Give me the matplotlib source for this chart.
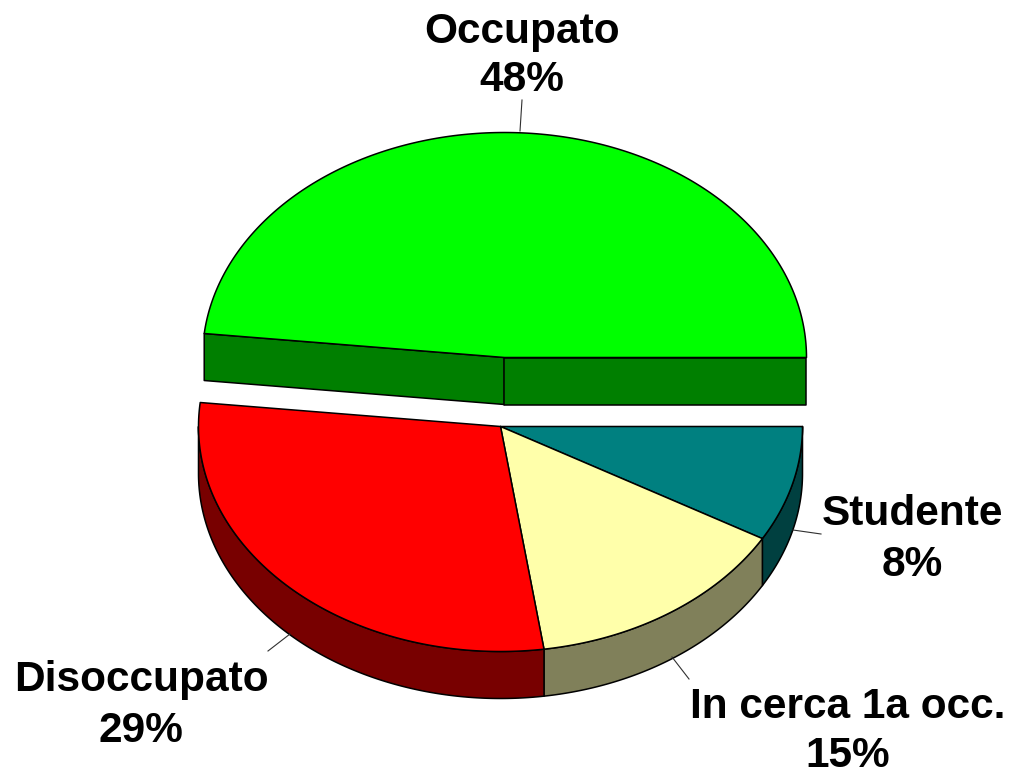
from matplotlib import pyplot as plt
import numpy as np

labels = ["Occupato", "Studente", "In cerca 1a occ.", "Disoccupato"]
shown_pct = [48, 8, 15, 29]
# shares, the printed labels are rounded
shares = [48.3, 8.3, 14.4, 29.0]
top_colors = ["#00ff00", "#008080", "#ffffaa", "#ff0000"]
side_colors = ["#007f00", "#004040", "#80805a", "#780000"]

# pie layout in pixels
RX, RY = 302, 225
DEPTH = 47
CENTER_UP = (504.5, 357.5)
CENTER_LOW = (500.5, 426.5)
LW = 1.1


def arc(center, a0, a1, drop=0):
    t = np.radians(np.linspace(a0, a1, 200))
    return center[0] + RX * np.cos(t), center[1] - RY * np.sin(t) + drop


def draw_side(ax, center, a0, a1, color):
    # outer wall between two angles, only the part facing the viewer
    x0, y0 = arc(center, a0, a1)
    x1, y1 = arc(center, a1, a0, DEPTH)
    ax.fill(np.r_[x0, x1], np.r_[y0, y1], facecolor=color, edgecolor="black", lw=LW, joinstyle="round")


def draw_top(ax, center, a0, a1, color):
    x, y = arc(center, a0, a1)
    ax.fill(np.r_[center[0], x], np.r_[center[1], y], facecolor=color, edgecolor="black", lw=LW, joinstyle="round")


def draw_wall(ax, center, end, color):
    xs = [center[0], end[0], end[0], center[0]]
    ys = [center[1], end[1], end[1] + DEPTH, center[1] + DEPTH]
    ax.fill(xs, ys, facecolor=color, edgecolor="black", lw=LW, joinstyle="round")


fig = plt.figure(figsize=(10.12, 7.73), dpi=100)
ax = fig.add_axes([0, 0, 1, 1])
ax.set_xlim(0, 1012)
ax.set_ylim(773, 0)
ax.axis("off")

# exploded slice: runs counter clockwise from the east point
occ_end = 360 * shares[0] / 100
end_x, end_y = arc(CENTER_UP, occ_end, occ_end + 1)
draw_wall(ax, CENTER_UP, (end_x[0], end_y[0]), side_colors[0])
draw_wall(ax, CENTER_UP, (CENTER_UP[0] + RX, CENTER_UP[1]), side_colors[0])
draw_top(ax, CENTER_UP, 0, occ_end, top_colors[0])

# other slices run clockwise from the east point
edges = -np.cumsum([0] + [360 * s / 100 for s in shares[1:]])
for i in range(3):
    a0, a1 = edges[i], edges[i + 1]
    draw_side(ax, CENTER_LOW, a0, max(a1, -180), side_colors[i + 1])
for i in range(3):
    draw_top(ax, CENTER_LOW, edges[i], edges[i + 1], top_colors[i + 1])

text_pos = [(522, 32, 80), (912, 514, 565), (848, 707, 756), (141, 680, 731)]
leaders = [((522, 100), (520, 131)), ((821, 534), (793, 530)), ((689, 679), (672, 657)), ((268, 651), (290, 634))]

for lab, pct, (x, y0, y1), (p, q) in zip(labels, shown_pct, text_pos, leaders):
    ax.plot([p[0], q[0]], [p[1], q[1]], color="#303030", lw=0.8, zorder=1)
    ax.text(x, y0, lab, ha="center", va="center", fontsize=30.5, fontweight="bold", family="Liberation Sans")
    ax.text(x, y1, f"{pct}%", ha="center", va="center", fontsize=30.5, fontweight="bold", family="Liberation Sans")

plt.savefig("out.png", dpi=100)
plt.close()
